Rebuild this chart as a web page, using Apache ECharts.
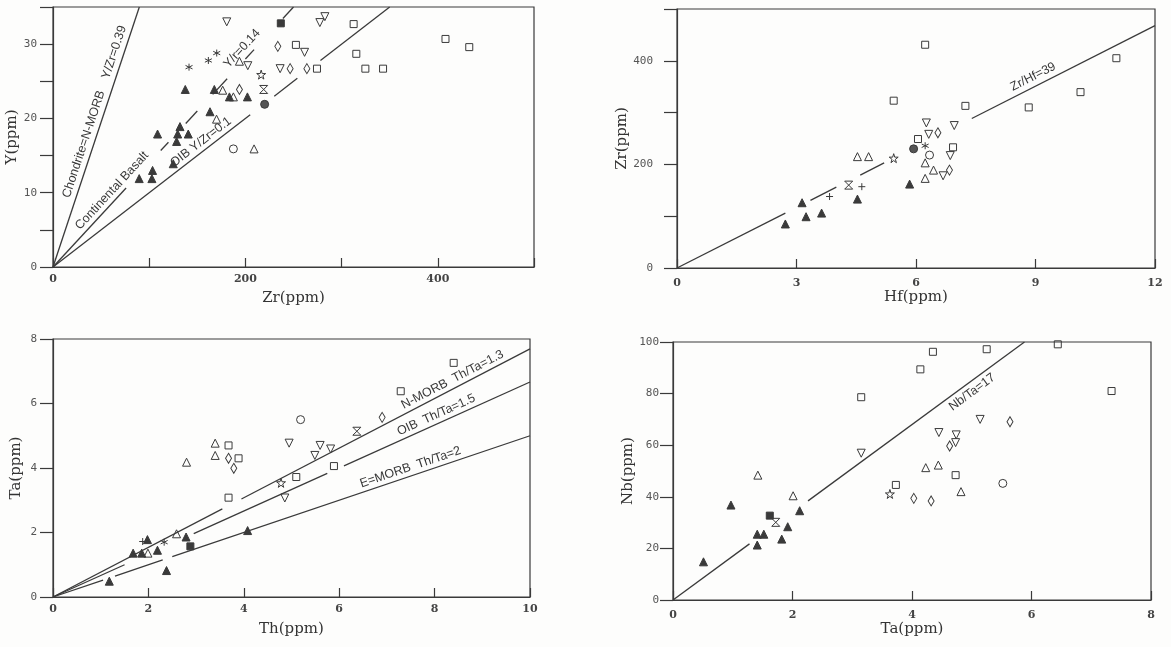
<!DOCTYPE html>
<html>
<head>
<meta charset="utf-8">
<script src="https://cdn.jsdelivr.net/npm/echarts@6/dist/echarts.min.js"></script>
<style>
  html, body { margin: 0; padding: 0; background: #fdfdfc; }
  #chart { width: 1171px; height: 647px; }
</style>
</head>
<body>
<div id="chart"></div>
<script>
// ---------------- data ----------------
// [x, y, marker]
const zrY = [
  [137.5, 23.9, 'tri'], [167.7, 23.9, 'tri'], [183.4, 22.9, 'tri'], [202.1, 22.9, 'tri'],
  [163.2, 20.9, 'tri'], [108.7, 17.9, 'tri'], [132, 18.9, 'tri'], [129.6, 17.9, 'tri'],
  [140.6, 17.9, 'tri'], [128.5, 16.9, 'tri'], [125, 13.9, 'tri'], [103.5, 13.0, 'tri'],
  [89.6, 11.9, 'tri'], [102.8, 11.9, 'tri'],
  [176.4, 23.8, 'otri'], [187.5, 22.9, 'otri'], [170, 19.9, 'otri'], [209, 15.9, 'otri'], [193.8, 27.7, 'otri'],
  [180.6, 33.0, 'itri'], [202.5, 27.1, 'itri'], [277.4, 32.9, 'itri'], [282.6, 33.7, 'itri'],
  [261.5, 28.9, 'itri'], [236.1, 26.7, 'itri'],
  [141.4, 26.9, 'ast'], [161.5, 27.8, 'ast'], [170.2, 28.8, 'ast'],
  [193.8, 23.9, 'dia'], [233.7, 29.7, 'dia'], [246.5, 26.7, 'dia'], [263.9, 26.7, 'dia'],
  [312.5, 32.7, 'sq'], [408, 30.7, 'sq'], [432.7, 29.6, 'sq'], [252.5, 29.9, 'sq'],
  [315.3, 28.7, 'sq'], [274.4, 26.7, 'sq'], [324.7, 26.7, 'sq'], [343.1, 26.7, 'sq'],
  [236.8, 32.8, 'fsq'], [187.5, 15.9, 'circ'], [216.4, 25.9, 'star'], [219, 23.9, 'hour'], [220, 21.9, 'dcirc']
];

const hfZr = [
  [2.72, 85, 'tri'], [3.14, 126, 'tri'], [3.24, 99, 'tri'], [3.63, 106, 'tri'], [4.53, 133, 'tri'], [5.84, 162, 'tri'],
  [4.31, 160, 'hour'], [3.83, 138, 'plus'], [4.64, 157, 'plus'],
  [4.53, 215, 'otri'], [4.81, 215, 'otri'], [6.23, 203, 'otri'], [6.44, 189, 'otri'], [6.23, 173, 'otri'],
  [5.44, 212, 'star'],
  [5.44, 323, 'sq'], [6.23, 431, 'sq'], [7.24, 313, 'sq'], [8.83, 310, 'sq'], [10.13, 339.5, 'sq'],
  [11.03, 405, 'sq'], [6.05, 249, 'sq'], [6.93, 233, 'sq'],
  [6.26, 280, 'itri'], [6.96, 275, 'itri'], [6.32, 258, 'itri'], [6.86, 217, 'itri'], [6.68, 178, 'itri'],
  [6.55, 261, 'dia'], [6.84, 189, 'dia'],
  [5.94, 230, 'dcirc'], [6.23, 236, 'ast'], [6.34, 218, 'circ']
];

const thTa = [
  [3.40, 4.77, 'otri'], [3.40, 4.39, 'otri'], [2.80, 4.18, 'otri'], [2.59, 1.96, 'otri'], [1.99, 1.36, 'otri'],
  [3.68, 4.70, 'sq'], [3.89, 4.30, 'sq'], [3.68, 3.08, 'sq'], [8.40, 7.26, 'sq'], [7.29, 6.38, 'sq'],
  [5.89, 4.06, 'sq'], [5.10, 3.72, 'sq'],
  [3.68, 4.30, 'dia'], [3.79, 3.99, 'dia'], [6.90, 5.57, 'dia'],
  [2.79, 1.86, 'tri'], [4.08, 2.06, 'tri'], [1.98, 1.78, 'tri'], [1.68, 1.36, 'tri'], [1.86, 1.36, 'tri'],
  [2.19, 1.45, 'tri'], [2.38, 0.82, 'tri'], [1.18, 0.49, 'tri'],
  [2.88, 1.57, 'fsq'], [1.88, 1.72, 'plus'], [2.33, 1.70, 'ast'],
  [5.19, 5.50, 'circ'], [6.37, 5.14, 'hour'],
  [4.95, 4.77, 'itri'], [5.60, 4.70, 'itri'], [5.49, 4.39, 'itri'], [5.82, 4.59, 'itri'], [4.86, 3.07, 'itri'],
  [4.78, 3.54, 'star']
];

const taNb = [
  [3.15, 78.6, 'sq'], [3.73, 44.6, 'sq'], [4.35, 96.2, 'sq'], [5.25, 97.2, 'sq'], [6.44, 99.1, 'sq'],
  [4.14, 89.4, 'sq'], [7.34, 81.0, 'sq'], [4.73, 48.4, 'sq'],
  [3.15, 56.9, 'itri'], [5.14, 70.0, 'itri'], [4.45, 64.9, 'itri'], [4.74, 64.0, 'itri'], [4.73, 61.0, 'itri'],
  [1.42, 48.4, 'otri'], [2.01, 40.4, 'otri'], [4.23, 51.3, 'otri'], [4.44, 52.3, 'otri'], [4.82, 42.0, 'otri'],
  [3.63, 41.1, 'star'],
  [0.97, 36.8, 'tri'], [2.12, 34.6, 'tri'], [1.41, 25.5, 'tri'], [1.52, 25.5, 'tri'], [1.92, 28.4, 'tri'],
  [1.82, 23.6, 'tri'], [1.41, 21.3, 'tri'], [0.51, 14.8, 'tri'],
  [1.62, 32.7, 'fsq'], [1.72, 30.1, 'hour'],
  [5.64, 69.1, 'dia'], [4.63, 59.7, 'dia'], [4.03, 39.4, 'dia'], [4.32, 38.4, 'dia'],
  [5.52, 45.2, 'circ']
];

// reference ratios
const yZrRatios = [0.39, 0.14, 0.1];   // Chondrite=N-MORB, Continental Basalt, OIB
const zrHfRatios = [39];
const thTaRatios = [1.3, 1.5, 2];      // N-MORB, OIB, E-MORB
const nbTaRatios = [17];

// labelled ticks
const zrTicks = [0, 200, 400];
const yTicks = [0, 10, 20, 30];
const hfTicks = [0, 3, 6, 9, 12];
const zrTicksB = [0, 200, 400];
const thTicks = [0, 2, 4, 6, 8, 10];
const taTicks = [0, 2, 4, 6, 8];
const taTicksB = [0, 2, 4, 6, 8];
const nbTicks = [0, 20, 40, 60, 80, 100];

// ---------------- styling ----------------
const INK = '#3a3a3a';
const NOFILL = 'rgba(0,0,0,0)';
const ANNOT_FONT = '12.5px "Liberation Sans", Arial, sans-serif';

const MARKS = {
  tri:   { symbol: 'triangle', size: 8, fill: INK },
  otri:  { symbol: 'triangle', size: 8, fill: NOFILL },
  itri:  { symbol: 'triangle', size: 8, fill: NOFILL, rotate: 180 },
  dia:   { symbol: 'diamond', size: [6, 10], fill: NOFILL },
  sq:    { symbol: 'rect', size: 7, fill: NOFILL },
  fsq:   { symbol: 'rect', size: 7, fill: INK },
  circ:  { symbol: 'circle', size: 8, fill: NOFILL },
  dcirc: { symbol: 'circle', size: 8, fill: '#555' },
  star:  { symbol: 'path://M50,0L61,35L98,35L68,57L79,91L50,70L21,91L32,57L2,35L39,35Z', size: 9, fill: NOFILL },
  ast:   { symbol: 'path://M5,0L5,10M0.7,2.5L9.3,7.5M0.7,7.5L9.3,2.5', size: 7, fill: NOFILL },
  plus:  { symbol: 'path://M5,0L5,10M0,5L10,5', size: 7, fill: NOFILL },
  hour:  { symbol: 'path://M0,0L10,0L0,10L10,10Z', size: 8, fill: NOFILL }
};

const panels = [
  {
    grid: { left: 53, top: 7, width: 481, height: 260 },
    x: { min: 0, max: 500, interval: 100, labels: zrTicks, name: 'Zr(ppm)', nameGap: 24, margin: 7 },
    y: { min: 0, max: 35, interval: 5, labels: yTicks, name: 'Y(ppm)', nameGap: 33, margin: 16 },
    points: zrY,
    lines: [
      { slope: yZrRatios[0], pieces: [[0, 500]] },
      { slope: yZrRatios[1], pieces: [[0, 76], [112, 120], [138, 150], [166, 181], [200, 209], [239, 260]] },
      { slope: yZrRatios[2], pieces: [[0, 205], [230, 254], [278, 360]] }
    ]
  },
  {
    grid: { left: 677, top: 9, width: 478, height: 259 },
    x: { min: 0, max: 12, interval: 3, labels: hfTicks, name: 'Hf(ppm)', nameGap: 21, margin: 10 },
    y: { min: 0, max: 500, interval: 100, labels: zrTicksB, name: 'Zr(ppm)', nameGap: 39, margin: 24 },
    points: hfZr,
    lines: [
      { slope: zrHfRatios[0], pieces: [[0, 2.72], [3.35, 4.0], [4.6, 5.2], [7.4, 12]] }
    ]
  },
  {
    grid: { left: 53, top: 339, width: 477, height: 258 },
    x: { min: 0, max: 10, interval: 2, labels: thTicks, name: 'Th(ppm)', nameGap: 25, margin: 7 },
    y: { min: 0, max: 8, interval: 2, labels: taTicks, name: 'Ta(ppm)', nameGap: 29, margin: 16 },
    points: thTa,
    lines: [
      { slope: 1 / thTaRatios[0], pieces: [[0, 3.55], [3.95, 10]] },
      { slope: 1 / thTaRatios[1], pieces: [[0, 1.5], [2.95, 5.75], [6.1, 10]] },
      { slope: 1 / thTaRatios[2], pieces: [[0, 1.05], [1.3, 2.3], [2.5, 10]] }
    ]
  },
  {
    grid: { left: 673, top: 342, width: 478, height: 258 },
    x: { min: 0, max: 8, interval: 2, labels: taTicksB, name: 'Ta(ppm)', nameGap: 22, margin: 10 },
    y: { min: 0, max: 100, interval: 20, labels: nbTicks, name: 'Nb(ppm)', nameGap: 36, margin: 14 },
    points: taNb,
    lines: [
      { slope: nbTaRatios[0], pieces: [[0, 1.28], [2.26, 8]] }
    ]
  }
];

// text laid along the reference lines: panel, slope, start x, side (+ above / - below)
const LINE_LABELS = [
  { panel: 0, slope: yZrRatios[0], x0: 23, side: 1, gap: 3, text: 'Chondrite=N-MORB' },
  { panel: 0, slope: yZrRatios[0], x0: 64, side: 1, gap: 3, text: 'Y/Zr=0.39' },
  { panel: 0, slope: yZrRatios[1], x0: 32, side: 1, gap: 2, text: 'Continental Basalt' },
  { panel: 0, slope: yZrRatios[1], x0: 187, side: 1, gap: 3, text: 'Y/r=0.14' },
  { panel: 0, slope: yZrRatios[2], x0: 129, side: 1, gap: 2, text: 'OIB Y/Zr=0.1' },
  { panel: 1, slope: zrHfRatios[0], x0: 8.5, side: 1, gap: 3, text: 'Zr/Hf=39' },
  { panel: 2, slope: 1 / thTaRatios[0], x0: 7.4, side: 1, gap: 2, text: 'N-MORB  Th/Ta=1.3' },
  { panel: 2, slope: 1 / thTaRatios[1], x0: 7.3, side: 1, gap: 2, text: 'OIB  Th/Ta=1.5' },
  { panel: 2, slope: 1 / thTaRatios[2], x0: 6.5, side: 1, gap: 2, text: 'E=MORB  Th/Ta=2' },
  { panel: 3, slope: nbTaRatios[0], x0: 4.55, side: -1, gap: 3, text: 'Nb/Ta=17' }
];

// ---------------- option ----------------
function tickFormatter(list) {
  return function (v) {
    return list.some(t => Math.abs(t - v) < 1e-9) ? String(v) : '';
  };
}

const grids = [], xAxes = [], yAxes = [], series = [];

panels.forEach((p, i) => {
  grids.push(Object.assign({
    show: true, borderColor: INK, borderWidth: 1.2, backgroundColor: 'transparent',
    containLabel: false, outerBoundsMode: 'none'
  }, p.grid));

  xAxes.push({
    gridIndex: i, type: 'value', min: p.x.min, max: p.x.max, interval: p.x.interval,
    name: p.x.name, nameLocation: 'middle', nameGap: p.x.nameGap,
    nameTextStyle: { fontFamily: '"DejaVu Serif", serif', fontSize: 15, color: '#333' },
    axisLine: { show: true, onZero: false, lineStyle: { color: INK, width: 1.2 } },
    axisTick: { show: true, inside: true, length: 9, lineStyle: { color: INK, width: 1.2 } },
    axisLabel: {
      formatter: tickFormatter(p.x.labels), margin: p.x.margin,
      fontFamily: '"DejaVu Serif", serif', fontWeight: 'bold', fontSize: 11, color: '#444'
    },
    splitLine: { show: false }
  });

  yAxes.push({
    gridIndex: i, type: 'value', min: p.y.min, max: p.y.max, interval: p.y.interval,
    name: p.y.name, nameLocation: 'middle', nameGap: p.y.nameGap, nameRotate: 90,
    nameTextStyle: { fontFamily: '"DejaVu Serif", serif', fontSize: 15, color: '#333' },
    axisLine: { show: true, onZero: false, lineStyle: { color: INK, width: 1.2 } },
    axisTick: { show: true, inside: false, length: 13, lineStyle: { color: INK, width: 1.2 } },
    axisLabel: {
      formatter: tickFormatter(p.y.labels), margin: p.y.margin,
      fontFamily: '"DejaVu Sans Mono", monospace', fontSize: 11, color: '#555'
    },
    splitLine: { show: false }
  });

  // reference lines through the origin, clipped to the plot box
  p.lines.forEach(l => {
    const xEnd = Math.min(p.x.max, p.y.max / l.slope);
    l.pieces.forEach(([a, b]) => {
      const b2 = Math.min(b, xEnd);
      if (a >= b2) return;
      series.push({
        type: 'line', xAxisIndex: i, yAxisIndex: i, silent: true, z: 1,
        symbol: 'none', animation: false,
        lineStyle: { color: INK, width: 1.3 },
        data: [[a, l.slope * a], [b2, l.slope * b2]]
      });
    });
  });

  // one scatter series per marker type
  const byMark = {};
  p.points.forEach(([x, y, m]) => { (byMark[m] = byMark[m] || []).push([x, y]); });
  Object.keys(byMark).forEach(m => {
    const mk = MARKS[m];
    series.push({
      type: 'scatter', xAxisIndex: i, yAxisIndex: i, z: 3, animation: false,
      symbol: mk.symbol, symbolSize: mk.size, symbolRotate: mk.rotate || 0,
      itemStyle: { color: mk.fill, borderColor: INK, borderWidth: 1, opacity: 1 },
      emphasis: { disabled: true },
      data: byMark[m]
    });
  });
});

const chart = echarts.init(document.getElementById('chart'), null, { renderer: 'canvas' });
chart.setOption({
  backgroundColor: '#fdfdfc',
  animation: false,
  grid: grids,
  xAxis: xAxes,
  yAxis: yAxes,
  series: series
});

// rotated captions sitting along the reference lines
const graphics = LINE_LABELS.map(l => {
  const step = panels[l.panel].x.max / 100;
  const p0 = chart.convertToPixel({ gridIndex: l.panel }, [l.x0, l.slope * l.x0]);
  const p1 = chart.convertToPixel({ gridIndex: l.panel }, [l.x0 + step, l.slope * (l.x0 + step)]);
  const dx = p1[0] - p0[0], dy = p1[1] - p0[1];
  const len = Math.hypot(dx, dy);
  const ux = dx / len, uy = dy / len;
  const nx = uy, ny = -ux;                 // normal pointing to the upper side
  return {
    type: 'text', z: 10, silent: true,
    x: p0[0] + nx * l.gap * l.side,
    y: p0[1] + ny * l.gap * l.side,
    rotation: Math.atan2(-uy, ux),
    style: {
      text: l.text, font: ANNOT_FONT, fill: '#383838',
      align: 'left', verticalAlign: l.side > 0 ? 'bottom' : 'top'
    }
  };
});
chart.setOption({ graphic: graphics });
</script>
</body>
</html>
